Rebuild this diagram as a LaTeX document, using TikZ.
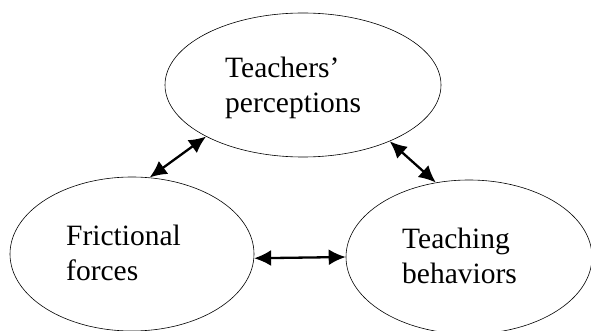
\documentclass[tikz,border=0pt]{standalone}
\usepackage{fontspec}
\setmainfont{Liberation Serif}
\usetikzlibrary{shapes.geometric,arrows.meta}

\tikzset{
	blob/.style={draw, ellipse, line width=0.6pt, inner sep=0pt},
	words/.style={inner sep=0pt, align=left, anchor=base west, font=\fontsize{29.5}{35}\selectfont},
	twoway/.style={{Latex[length=17pt,width=16pt]}-{Latex[length=17pt,width=16pt]}, line width=2.3pt}
}

\begin{document}
\begin{tikzpicture}[x=1pt,y=-1pt]
	%Picture frame, same size as the reference
	\useasboundingbox (0,0) rectangle (591,331);
	\clip (0,0) rectangle (591,331);

	%Centres of the three ellipses
	\pgfmathsetmacro{\tx}{303}
	\pgfmathsetmacro{\ty}{85}
	\pgfmathsetmacro{\fx}{132}
	\pgfmathsetmacro{\fy}{254}
	\pgfmathsetmacro{\bx}{469}
	\pgfmathsetmacro{\by}{257}

	%Top ellipse: perceptions
	\draw node[blob, minimum width=276pt, minimum height=144pt] (percep) at (\tx,\ty) {};
	\draw node[words] (percept) at (225,113) {Teachers’\\perceptions};

	%Left ellipse: frictional forces
	\draw node[blob, minimum width=244pt, minimum height=154pt] (frict) at (\fx,\fy) {};
	\draw node[words] (frictt) at (66,280) {Frictional\\forces};

	%Right ellipse: teaching behaviors
	\draw node[blob, minimum width=246pt, minimum height=154pt] (behav) at (\bx,\by) {};
	\draw node[words] (behavt) at (402,283) {Teaching\\behaviors};

	%Arrows between them
	\draw[twoway] (frict.77) -- (percep.208);
	\draw[twoway] (percep.327) -- (behav.114);
	\draw[twoway] (frict.358) -- (behav.180);

\end{tikzpicture}
\end{document}
